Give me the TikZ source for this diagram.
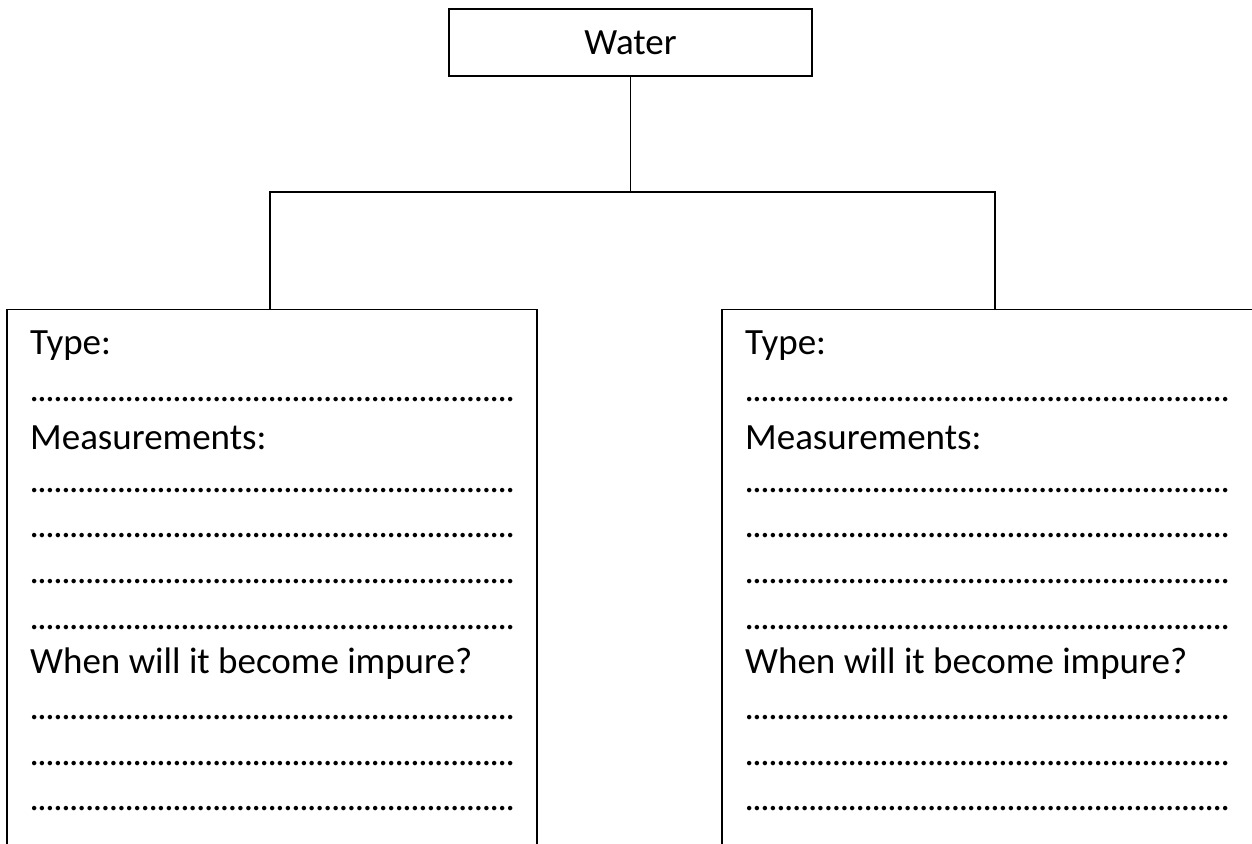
\documentclass[tikz,border=0pt]{standalone}
\usepackage{fontspec}
\setmainfont{Carlito}
\newcommand{\dotrow}{\hbox to 485pt{\xleaders\hbox to 7.95pt{\hss.\hss}\hfill}}
\begin{document}
\begin{tikzpicture}[x=1pt,y=-1pt,
  frame/.style={draw=black,line width=1.3pt,inner sep=0pt},
  link/.style={draw=black,line width=1.3pt},
  txt/.style={anchor=base west,inner sep=0pt,font=\fontsize{37}{40}\selectfont}]
\clip (0,0) rectangle (1252,843);
\fill[white] (0,0) rectangle (1252,843);
% top box
\node[frame,minimum width=363pt,minimum height=67pt,font=\fontsize{37}{40}\selectfont] (water) at (630.5,42.5) {Water};
% lower boxes
\node[frame,minimum width=530pt,minimum height=700pt,anchor=north] (left) at (272,309) {};
\node[frame,minimum width=544pt,minimum height=700pt,anchor=north] (right) at (994,309) {};
% connectors
\coordinate (junc) at (water.south |- 0,192);
\draw[link] (water.south) -- (junc);
\draw[link] (junc) -| (270,309);
\draw[link] (junc) -| (995,309);
% left texts
\node[txt] (lt1) at (30,354) {Type:};
\node[txt] (ld1) at (30,401) {\dotrow};
\node[txt] (lt2) at (30,449) {Measurements:};
\node[txt] (ld2) at (30,492) {\dotrow};
\node[txt] (ld3) at (30,537) {\dotrow};
\node[txt] (ld4) at (30,583) {\dotrow};
\node[txt] (ld5) at (30,629) {\dotrow};
\node[txt] (lt3) at (30,673) {When will it become impure?};
\node[txt] (ld6) at (30,719) {\dotrow};
\node[txt] (ld7) at (30,765) {\dotrow};
\node[txt] (ld8) at (30,810) {\dotrow};
% right texts
\node[txt] (rt1) at (745,354) {Type:};
\node[txt] (rd1) at (745,401) {\dotrow};
\node[txt] (rt2) at (745,449) {Measurements:};
\node[txt] (rd2) at (745,492) {\dotrow};
\node[txt] (rd3) at (745,537) {\dotrow};
\node[txt] (rd4) at (745,583) {\dotrow};
\node[txt] (rd5) at (745,629) {\dotrow};
\node[txt] (rt3) at (745,673) {When will it become impure?};
\node[txt] (rd6) at (745,719) {\dotrow};
\node[txt] (rd7) at (745,765) {\dotrow};
\node[txt] (rd8) at (745,810) {\dotrow};
\end{tikzpicture}
\end{document}
